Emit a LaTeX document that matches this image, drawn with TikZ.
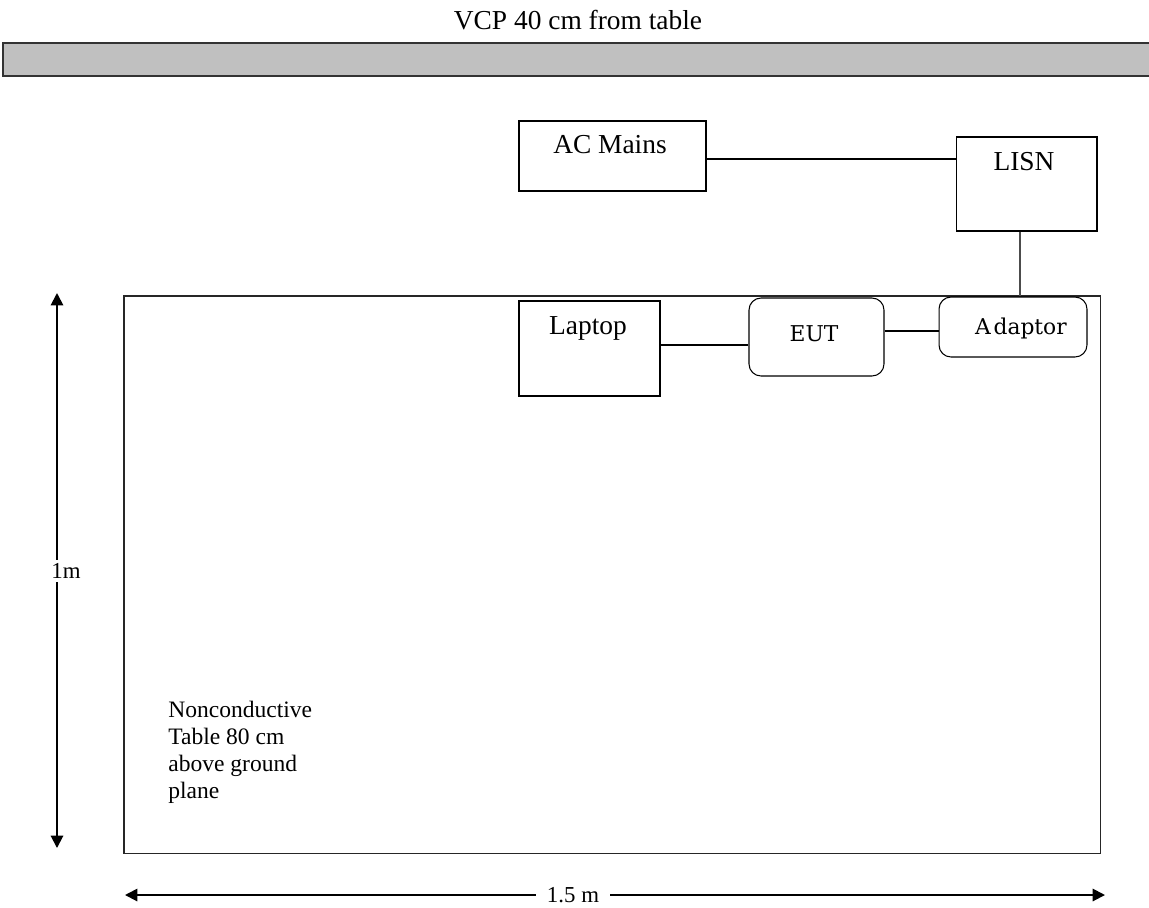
\documentclass[tikz,border=0pt]{standalone}
\usepackage{fontspec}
\setmainfont{Liberation Serif}
\newfontfamily\slabfont{DejaVu Serif}
\usetikzlibrary{arrows.meta,calc}
\definecolor{vcpgray}{RGB}{192,192,192}
\tikzset{
  plainbox/.style={draw=black, line width=0.6pt, inner sep=0pt},
  roundbox/.style={draw=black, line width=0.6pt, rounded corners=0.24cm, inner sep=0pt},
  boxtext/.style={font=\fontsize{15.6}{18}\selectfont, inner sep=0pt},
  slabtext/.style={font=\slabfont\fontsize{12.4}{15}\selectfont, inner sep=0pt},
  wire/.style={draw=black, line width=0.6pt},
  dimarrow/.style={draw=black, line width=1.1pt, {Triangle[width=7pt,length=7pt]}-{Triangle[width=7pt,length=7pt]}},
  dimlabel/.style={font=\fontsize{13}{15}\selectfont, fill=white, inner ysep=2pt, inner xsep=0.22cm}
}
\begin{document}
\begin{tikzpicture}[x=0.02cm, y=-0.02cm]
\useasboundingbox (0,0) rectangle (1149,907);

% VCP
\node[boxtext] (vcptext) at (578,20) {VCP 40 cm from table};
\fill[vcpgray] (1149,43) -- (3,43) -- (3,76) -- (1149,76) -- cycle;
\draw[draw=black!80, line width=1.2pt] (1149,43) -- (3,43) -- (3,76) -- (1149,76);

% table
\node[draw=black!85, line width=0.9pt, minimum width=19.54cm, minimum height=11.16cm, anchor=north west, inner sep=0pt] (table) at (123,295) {};

% boxes
\node[plainbox, minimum width=3.74cm, minimum height=1.40cm] (ac) at (612.5,156) {};
\node[boxtext] (actext) at (610,145) {AC Mains};
\node[plainbox, minimum width=2.82cm, minimum height=1.88cm] (lisn) at (1026.5,184) {};
\node[boxtext] (lisntext) at (1024,162) {LISN};
\node[plainbox, minimum width=2.82cm, minimum height=1.90cm] (laptop) at (589.5,348.5) {};
\node[boxtext] (laptoptext) at (588,328) {Laptop};
\node[roundbox, fill=white, minimum width=2.70cm, minimum height=1.56cm] (eut) at (816.5,337) {};
\node[slabtext] (euttext) at (814,334) {EUT};
\node[roundbox, fill=white, minimum width=2.96cm, minimum height=1.20cm] (adaptor) at (1013,327) {};
\node[slabtext] (adaptortext) at (1021,328) {A\kern1.5pt daptor};

% wires
\draw[wire] ([yshift=-0.06cm]ac.east) -- ([yshift=-0.06cm]ac.east -| lisn.west);
\draw[wire, draw=black!70] ([xshift=-0.13cm]lisn.south) -- ([xshift=-0.13cm]lisn.south |- adaptor.north);
\draw[wire] ([yshift=0.07cm]laptop.east) -- ([yshift=0.07cm]laptop.east -| eut.west);
\draw[wire] ([yshift=0.12cm]eut.east) -- ([yshift=0.12cm]eut.east -| adaptor.west);

% note
\node[font=\fontsize{13.4}{15.3}\selectfont, align=left, anchor=north west, inner sep=0pt] (note) at (168,701)
  {Nonconductive\\Table 80 cm\\above ground\\plane};

% dimensions
\coordinate (vtop) at (57,293);
\coordinate (vbot) at (57,848);
\draw[dimarrow] (vbot) -- (vtop);
\node[dimlabel] (vlabel) at (66,571) {1m};
\coordinate (hleft) at (125,895);
\coordinate (hright) at (1105,895);
\draw[dimarrow] (hleft) -- (hright);
\node[dimlabel] (hlabel) at (573,895) {1.5 m};
\end{tikzpicture}
\end{document}
